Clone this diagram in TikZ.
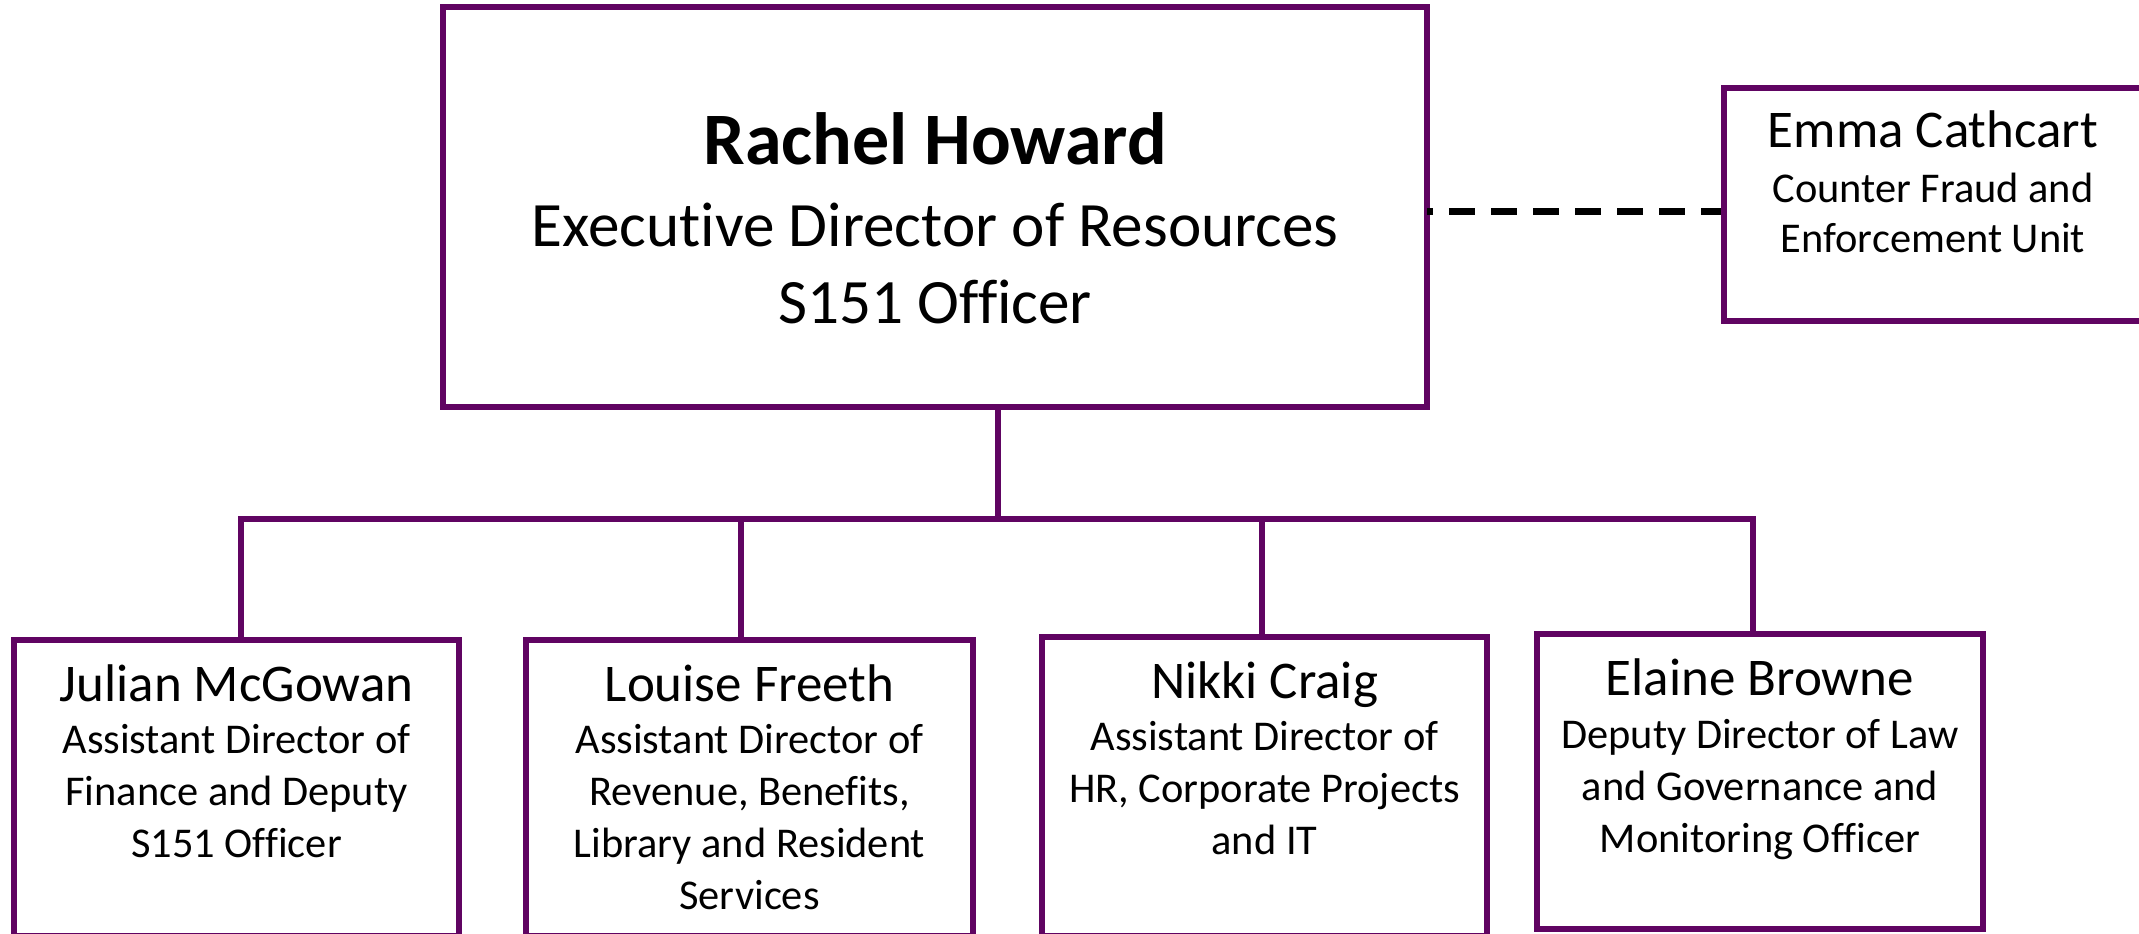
\documentclass[tikz,border=0pt]{standalone}
\usepackage{fontspec}
\setmainfont{Carlito}[Ligatures=NoCommon]
\definecolor{orgpurple}{RGB}{96,4,98}
\newcommand{\bigname}{\fontsize{37pt}{44pt}\bfseries\selectfont}
\newcommand{\bigrole}{\fontsize{31.6pt}{38pt}\selectfont}
\newcommand{\pname}{\fontsize{26.5pt}{32pt}\selectfont}
\newcommand{\prole}{\fontsize{21.2pt}{26pt}\selectfont}
\begin{document}
\begin{tikzpicture}[x=0.5pt,y=-0.5pt,
  orgbox/.style={draw=orgpurple, line width=3pt, fill=none, rectangle, inner sep=0pt},
  conn/.style={draw=orgpurple, line width=3pt},
  dashline/.style={draw=black, line width=3.5pt, dash pattern=on 13pt off 8pt, dash phase=10pt},
  txt/.style={anchor=base, inner sep=0pt, text=black}]
\useasboundingbox (0,0) rectangle (2139,933);
\clip (0,0) rectangle (2139,933);
\fill[white] (0,0) rectangle (2139,933);

% boxes
\node[orgbox, minimum width=492pt, minimum height=200pt] (rh) at (935,207) {};
\node[orgbox, minimum width=209.5pt, minimum height=116.5pt] (em) at (1933.5,204.5) {};
\node[orgbox, minimum width=222.5pt, minimum height=148pt] (jm) at (236.5,788) {};
\node[orgbox, minimum width=223.5pt, minimum height=148pt] (lf) at (749.5,788) {};
\node[orgbox, minimum width=222.5pt, minimum height=149.5pt] (nc) at (1264.5,786.5) {};
\node[orgbox, minimum width=223pt, minimum height=147.5pt] (eb) at (1760,781.5) {};

% main texts
\node[txt, font=\bigname] (rh1) at (935,164) {Rachel Howard};
\node[txt, font=\bigrole] (rh2) at (935,246) {Executive Director of Resources};
\node[txt, font=\bigrole] (rh3) at (935,323) {S151 Officer};

% Emma
\node[txt, font=\pname] (em1) at (1933,147) {Emma Cathcart};
\node[txt, font=\prole] (em2) at (1933,202) {Counter Fraud and};
\node[txt, font=\prole] (em3) at (1933,252) {Enforcement Unit};

% Julian
\node[txt, font=\pname] (jm1) at (236.5,701) {Julian McGowan};
\node[txt, font=\prole] (jm2) at (236.5,753) {Assistant Director of};
\node[txt, font=\prole] (jm3) at (236.5,805) {Finance and Deputy};
\node[txt, font=\prole] (jm4) at (236.5,857) {S151 Officer};

% Louise
\node[txt, font=\pname] (lf1) at (749.5,701) {Louise Freeth};
\node[txt, font=\prole] (lf2) at (749.5,753) {Assistant Director of};
\node[txt, font=\prole] (lf3) at (749.5,805) {Revenue, Benefits,};
\node[txt, font=\prole] (lf4) at (749.5,857) {Library and Resident};
\node[txt, font=\prole] (lf5) at (749.5,909) {Services};

% Nikki
\node[txt, font=\pname] (nc1) at (1264.5,698) {Nikki Craig};
\node[txt, font=\prole] (nc2) at (1264.5,750) {Assistant Director of};
\node[txt, font=\prole] (nc3) at (1264.5,802) {HR, Corporate Projects};
\node[txt, font=\prole] (nc4) at (1264.5,854) {and IT};

% Elaine
\node[txt, font=\pname] (eb1) at (1760,695) {Elaine Browne};
\node[txt, font=\prole] (eb2) at (1760,748) {Deputy Director of Law};
\node[txt, font=\prole] (eb3) at (1760,800) {and Governance and};
\node[txt, font=\prole] (eb4) at (1760,852) {Monitoring Officer};

% connectors
\coordinate (hub) at (998,519);
\coordinate (dl) at (1427,211);
\draw[conn] (rh.south -| hub) -- (hub);
\draw[conn] (jm.north) ++(4.5,0) |- (hub);
\draw[conn] (lf.north) ++(-8.5,0) |- (hub);
\draw[conn] (nc.north) ++(-2.5,0) |- (hub);
\draw[conn] (eb.north) ++(-7,0) |- (hub);
\draw[dashline] (dl) -- (em.west |- dl);
\end{tikzpicture}
\end{document}
